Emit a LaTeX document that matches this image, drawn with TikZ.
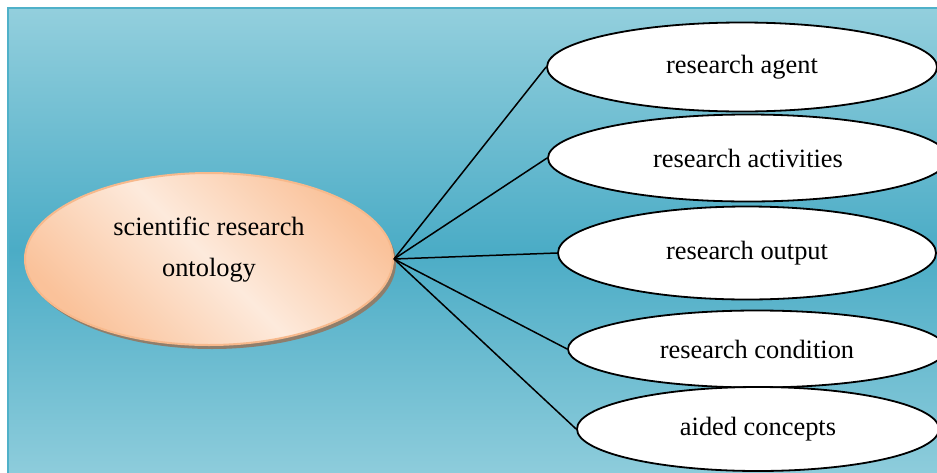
\documentclass[tikz,border=0pt]{standalone}
\usepackage{fontspec}
\setmainfont{Liberation Serif}
\usetikzlibrary{shapes.geometric}
\definecolor{bglight}{HTML}{93CFDD}
\definecolor{bgdark}{HTML}{4BACC6}
\definecolor{bgborder}{HTML}{4FB1C9}
\definecolor{peachdark}{HTML}{FAC29A}
\definecolor{peachlight}{HTML}{FDEADC}
\definecolor{peachborder}{HTML}{F7B98C}
\definecolor{shadowbrown}{HTML}{8E7E6C}
\tikzset{
  leaf/.style={ellipse, draw=black, line width=1.8pt, fill=white, inner sep=0pt,
    font=\fontsize{26.4}{32}\selectfont},
  rootshape/.style={ellipse, draw=peachborder, line width=2pt, inner sep=0pt,
    top color=peachdark, bottom color=peachdark, middle color=peachlight, shading angle=-45},
  link/.style={draw=black, line width=1.5pt},
  label/.style={align=center, inner sep=0pt, font=\fontsize{26.4}{41}\selectfont}
}
\begin{document}
\begin{tikzpicture}[x=1pt,y=-1pt]
\useasboundingbox (0,0) rectangle (937,472);
\begin{scope}
\clip (0,0) rectangle (937,472);
\shade[top color=bglight, bottom color=bglight, middle color=bgdark] (8,8) rectangle (945,492);
\draw[bgborder, line width=2.2pt] (8,500) -- (8,8) -- (945,8);
\end{scope}
% shadow of root
\node[ellipse, fill=shadowbrown, minimum width=368pt, minimum height=172pt, inner sep=0pt] at (212,263) {};
\node[rootshape, minimum width=368pt, minimum height=172pt] (root) at (209,259) {};
\node[label] (roottext) at (209,250) {scientific research\\ontology};
% leaves
\node[leaf, minimum width=390pt, minimum height=89pt] (agent) at (742,67) {research agent};
\node[leaf, minimum width=400pt, minimum height=87pt] (act) at (748,158) {research activities};
\node[leaf, minimum width=378pt, minimum height=93pt] (out) at (747,253) {research output};
\node[leaf, minimum width=378pt, minimum height=77pt] (cond) at (757,349) {research condition};
\node[leaf, minimum width=362pt, minimum height=84pt] (aid) at (758,429) {aided concepts};
% links
\draw[link] (root.east) -- (agent.west);
\draw[link] (root.east) -- (act.west);
\draw[link] (root.east) -- (out.west);
\draw[link] (root.east) -- (cond.west);
\draw[link] (root.east) -- (aid.west);
\end{tikzpicture}
\end{document}
